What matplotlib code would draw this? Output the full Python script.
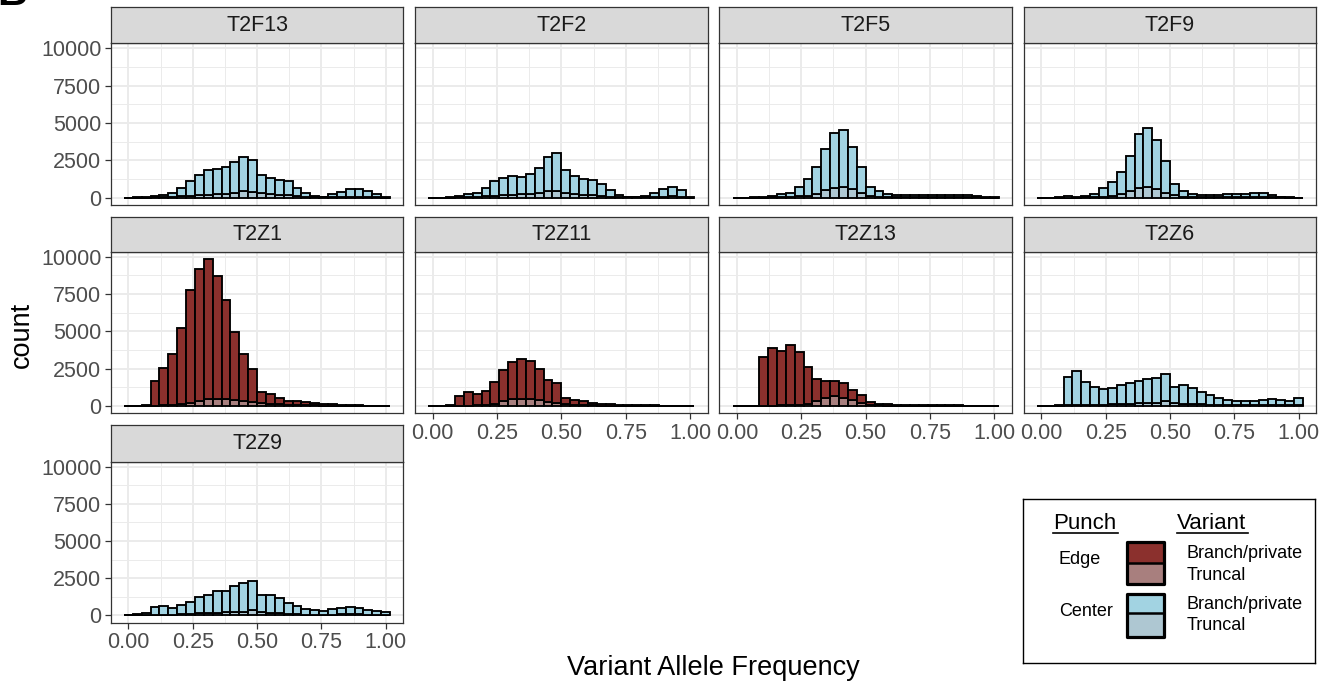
import numpy as np
import matplotlib
matplotlib.use("Agg")
import matplotlib.pyplot as plt
from matplotlib.patches import Rectangle

plt.rcParams["font.family"] = ["Liberation Sans", "DejaVu Sans"]

# stacked histogram counts, 30 bins over VAF 0..1 (total height and truncal part)
panels = ["T2F13", "T2F2", "T2F5", "T2F9", "T2Z1", "T2Z11", "T2Z13", "T2Z6", "T2Z9"]
punch = ["Center", "Center", "Center", "Center", "Edge", "Edge", "Edge", "Center", "Center"]

total = {
    "T2F13": [0, 20, 30, 90, 180, 310, 620, 1110, 1510, 1840, 1950, 2020, 2400, 2730, 2510,
              1530, 1330, 1180, 1090, 620, 310, 130, 60, 220, 360, 550, 550, 420, 220, 40],
    "T2F2": [0, 10, 20, 130, 220, 330, 620, 1090, 1330, 1420, 1380, 1550, 2000, 2710, 2970,
             1820, 1440, 1240, 1150, 890, 490, 180, 70, 70, 130, 330, 580, 730, 510, 40],
    "T2F5": [0, 10, 20, 40, 110, 220, 330, 710, 1270, 2070, 3290, 4310, 4510, 3420, 2070,
             730, 420, 240, 180, 180, 180, 180, 180, 180, 180, 180, 180, 110, 40, 20],
    "T2F9": [0, 10, 20, 90, 60, 110, 220, 620, 1070, 1730, 2800, 4240, 4640, 3840, 2440,
             930, 420, 240, 200, 150, 200, 270, 240, 270, 310, 310, 150, 70, 20, 10],
    "T2Z1": [0, 20, 40, 1670, 2530, 3490, 5240, 7750, 9150, 9840, 8700, 7080, 4970, 3510, 2460,
             910, 780, 560, 360, 330, 290, 200, 160, 110, 90, 70, 40, 20, 20, 20],
    "T2Z11": [0, 20, 40, 670, 910, 780, 1000, 1620, 2400, 2930, 3130, 3020, 2490, 1750, 1530,
              510, 420, 330, 220, 160, 110, 90, 70, 70, 40, 40, 20, 20, 20, 20],
    "T2Z13": [0, 0, 20, 3310, 3860, 3710, 4080, 3600, 2580, 1800, 1670, 1670, 1510, 1040, 710,
              270, 160, 110, 70, 40, 40, 40, 40, 50, 50, 50, 30, 30, 20, 0],
    "T2Z6": [0, 20, 40, 1910, 2310, 1620, 1240, 1130, 1200, 1380, 1550, 1690, 1820, 1840, 2150,
             1240, 1420, 1180, 930, 730, 560, 420, 360, 360, 360, 420, 440, 420, 310, 530],
    "T2Z9": [0, 70, 130, 530, 600, 510, 710, 930, 1240, 1400, 1620, 1670, 1980, 2150, 2330,
             1380, 1350, 1200, 840, 620, 440, 330, 290, 400, 490, 530, 490, 380, 270, 220],
}
truncal = {
    "T2F13": [0, 5, 10, 20, 30, 50, 80, 110, 150, 200, 230, 260, 330, 440, 400,
              280, 230, 180, 150, 100, 60, 30, 20, 30, 40, 60, 60, 50, 30, 10],
    "T2F2": [0, 5, 10, 20, 30, 50, 80, 120, 170, 200, 230, 260, 330, 440, 440,
             330, 250, 200, 160, 120, 70, 30, 20, 20, 30, 50, 70, 80, 60, 10],
    "T2F5": [0, 0, 5, 10, 20, 30, 50, 80, 130, 270, 490, 670, 730, 560, 310,
             130, 70, 40, 30, 30, 30, 30, 30, 30, 30, 30, 30, 20, 10, 5],
    "T2F9": [0, 0, 5, 10, 10, 20, 40, 70, 120, 230, 440, 620, 730, 600, 330,
             150, 70, 40, 30, 30, 30, 40, 40, 40, 50, 50, 30, 20, 5, 0],
    "T2Z1": [0, 0, 5, 20, 40, 70, 130, 220, 330, 470, 490, 470, 400, 360, 290,
             200, 150, 110, 80, 60, 50, 40, 30, 20, 20, 15, 10, 5, 5, 5],
    "T2Z11": [0, 0, 5, 20, 30, 40, 70, 130, 350, 470, 490, 490, 400, 270, 220,
              120, 90, 60, 40, 30, 20, 20, 15, 15, 10, 10, 5, 5, 5, 5],
    "T2Z13": [0, 0, 0, 20, 30, 50, 60, 90, 130, 310, 560, 640, 560, 380, 200,
              80, 40, 20, 10, 10, 10, 10, 10, 10, 10, 10, 5, 5, 5, 0],
    "T2Z6": [0, 0, 5, 60, 80, 80, 80, 90, 100, 120, 150, 180, 200, 200, 310,
             200, 150, 120, 100, 80, 60, 50, 40, 40, 40, 50, 50, 50, 40, 60],
    "T2Z9": [0, 5, 10, 40, 50, 50, 70, 100, 130, 160, 190, 200, 240, 260, 330,
             200, 170, 130, 90, 70, 50, 40, 40, 50, 60, 70, 60, 50, 40, 30],
}

colors = {
    ("Edge", "Branch/private"): "#8B302D",
    ("Edge", "Truncal"): "#A87F7E",
    ("Center", "Branch/private"): "#A2D3E2",
    ("Center", "Truncal"): "#AEC7D2",
}

n_bins = 30
binwidth = 1.0 / (n_bins - 1)
centers = np.arange(n_bins) * binwidth

W, H = 1332, 683
fig = plt.figure(figsize=(W / 100, H / 100), dpi=100)


def rect(x0, y0, x1, y1):
    return [x0 / W, 1 - y1 / H, (x1 - x0) / W, (y1 - y0) / H]


col_x = [110.7, 415.0, 719.3, 1023.7]
col_w = 292.7
rows = [(7.3, 43.3, 205.0), (216.7, 251.7, 413.3), (425.0, 461.7, 622.7)]

ymax = max(max(v) for v in total.values())
ylim = (-0.05 * ymax, 1.05 * ymax)
xlim = (-binwidth / 2 - 0.05 * (1 + binwidth), 1 + binwidth / 2 + 0.05 * (1 + binwidth))
grey20, grey30 = "#333333", "#4D4D4D"

for i, name in enumerate(panels):
    r, c = divmod(i, 4)
    s_top, p_top, p_bot = rows[r]
    x0 = col_x[c]
    ax = fig.add_axes(rect(x0, p_top, x0 + col_w, p_bot))
    tot = np.array(total[name], dtype=float)
    tr = np.array(truncal[name], dtype=float)
    br = tot - tr
    p = punch[i]
    ax.bar(centers, tr, width=binwidth, color=colors[(p, "Truncal")],
           edgecolor="black", linewidth=1.35, zorder=3)
    ax.bar(centers, br, width=binwidth, bottom=tr, color=colors[(p, "Branch/private")],
           edgecolor="black", linewidth=1.35, zorder=3)
    ax.set_xlim(*xlim)
    ax.set_ylim(*ylim)
    ax.set_xticks([0, 0.25, 0.5, 0.75, 1.0])
    ax.set_xticks([0.125, 0.375, 0.625, 0.875], minor=True)
    ax.set_yticks([0, 2500, 5000, 7500, 10000])
    ax.set_yticks([1250, 3750, 6250, 8750], minor=True)
    ax.grid(True, which="major", color="#EBEBEB", linewidth=1.4, zorder=0)
    ax.grid(True, which="minor", color="#EBEBEB", linewidth=0.7, zorder=0)
    ax.set_axisbelow(True)
    for sp in ax.spines.values():
        sp.set_color(grey20)
        sp.set_linewidth(0.9)
    ax.tick_params(which="minor", length=0)
    ax.tick_params(which="major", length=4.3, width=0.9, color=grey20,
                   labelcolor=grey30, labelsize=15.5, pad=2.5)
    show_x = (r == 1 and c > 0) or r == 2
    show_y = c == 0
    if show_x:
        ax.set_xticklabels(["0.00", "0.25", "0.50", "0.75", "1.00"])
    else:
        ax.tick_params(axis="x", which="major", length=0, labelbottom=False)
    if show_y:
        ax.set_yticklabels(["0", "2500", "5000", "7500", "10000"])
    else:
        ax.tick_params(axis="y", which="major", length=0, labelleft=False)

    # facet strip
    sax = fig.add_axes(rect(x0, s_top, x0 + col_w, p_top))
    sax.set_facecolor("#D9D9D9")
    sax.set_xticks([])
    sax.set_yticks([])
    for sp in sax.spines.values():
        sp.set_color(grey20)
        sp.set_linewidth(0.9)
    sax.text(0.5, 0.5, name, ha="center", va="center", fontsize=15.5,
             color="#1A1A1A", transform=sax.transAxes)

fig.text(713.5 / W, 1 - 668 / H, "Variant Allele Frequency", ha="center", va="center",
         fontsize=19.5, color="black")
fig.text(22 / W, 1 - 335 / H, "count", ha="center", va="center", rotation=90,
         fontsize=19.5, color="black")

# panel letter, cropped at the top edge
fig.text(-3 / W, 1 - 5 / H, "B", ha="left", va="baseline", fontsize=30,
         fontweight="bold", color="black")

# hand-built legend
lx0, ly0, lx1, ly1 = 1022.7, 499.3, 1315.0, 662.7
lax = fig.add_axes(rect(lx0, ly0, lx1, ly1))
lax.set_xlim(lx0, lx1)
lax.set_ylim(ly1, ly0)
lax.set_xticks([])
lax.set_yticks([])
for sp in lax.spines.values():
    sp.set_color("black")
    sp.set_linewidth(1.0)

lax.text(1053.3, 523.3, "Punch", ha="left", va="center", fontsize=16)
lax.plot([1053.3, 1118.5], [532.7, 532.7], color="black", lw=1.2)
lax.text(1176.7, 523.3, "Variant", ha="left", va="center", fontsize=16)
lax.plot([1176.7, 1248.3], [532.7, 532.7], color="black", lw=1.2)

legend_rows = [("Edge", 541.7, 562.7, 584.3, 560.0, 553.0, 576.0),
               ("Center", 594.3, 612.7, 636.7, 611.7, 604.3, 626.0)]
for label, top, mid, bot, ly, by, ty in legend_rows:
    lax.text(1059, ly, label, ha="left", va="center", fontsize=13)
    lax.add_patch(Rectangle((1126.7, top), 37.3, mid - top,
                            facecolor=colors[(label, "Branch/private")], edgecolor="none"))
    lax.add_patch(Rectangle((1126.7, mid), 37.3, bot - mid,
                            facecolor=colors[(label, "Truncal")], edgecolor="none"))
    lax.add_patch(Rectangle((1126.7, top), 37.3, bot - top, facecolor="none",
                            edgecolor="black", lw=2.3, joinstyle="round"))
    lax.plot([1126.7, 1164.0], [mid, mid], color="black", lw=1.8)
    lax.text(1186.7, by, "Branch/private", ha="left", va="center", fontsize=13)
    lax.text(1186.7, ty, "Truncal", ha="left", va="center", fontsize=13)

fig.savefig("out.png", dpi=100)
